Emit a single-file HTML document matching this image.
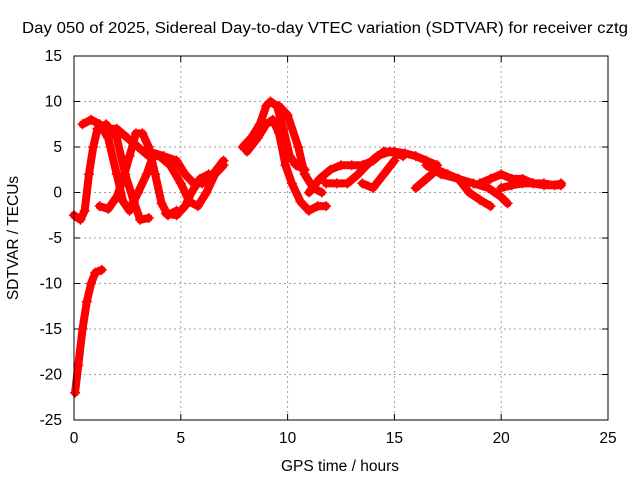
<!DOCTYPE html>
<html><head><meta charset="utf-8"><style>
body{margin:0;background:#fff;}
svg text{font-family:"Liberation Sans",sans-serif;font-size:15.5px;fill:#000;}
</style></head><body>
<svg id="chart" width="640" height="480">
<text x="22" y="33" textLength="606" lengthAdjust="spacingAndGlyphs">Day 050 of 2025, Sidereal Day-to-day VTEC variation (SDTVAR) for receiver cztg</text>
<text x="340" y="471" text-anchor="middle">GPS time / hours</text>
<text x="18" y="238" text-anchor="middle" transform="rotate(-90 18 238)">SDTVAR / TECUs</text>
<g id="grid"></g><g id="ticks"></g><g id="series"></g>
<rect x="74" y="56" width="534" height="364" fill="none" stroke="#000" stroke-width="1"/>
</svg>
<script>
const xTicks=[0,5,10,15,20,25];
const yTicks=[15,10,5,0,-5,-10,-15,-20,-25];
const track1X=[0.05,0.2,0.4,0.6,0.8,1.0,1.3];
const track1Y=[-22,-19,-15,-12,-10,-8.8,-8.5];
const track2X=[0,0.3,0.5,0.7,0.9,1.1,1.5,2.0,2.4,2.8,3.1,3.5];
const track2Y=[-2.5,-3,-2,2,5,7,7.5,6,2,-1,-3,-2.8];
const track3X=[0.4,0.8,1.2,1.6,2.0,2.3,2.6,3.0,3.4,3.7];
const track3Y=[7.5,8,7.5,6,2,-1,-2,0,2,4];
const track4X=[1.2,1.6,2.0,2.3,2.6,2.9,3.2,3.5,3.8,4.1,4.4,4.8];
const track4Y=[-1.5,-1.8,-0.5,1.5,4,6.5,6.5,5,2,-1.2,-2.5,-2];
const track5X=[1.5,2.0,2.5,3.0,3.5,4.0,4.5,5.0,5.4,5.8,6.2,6.6,7.0];
const track5Y=[7,7,6,5,4,4,3,1,-1,-1.5,0,2,3];
const track6X=[3.5,4.2,4.8,5.2,5.6,6.0,6.5,7.0];
const track6Y=[4.5,4,3.5,2,1,1,2,3.5];
const track7X=[4.3,4.8,5.2,5.5,5.9,6.3];
const track7Y=[-2.3,-2.5,-1.5,0,1.5,2];
const track8X=[7.9,8.3,8.7,9.0,9.2,9.5,9.8,10.1,10.4,10.8];
const track8Y=[5,6,7.5,9.5,10,9.5,7,4,3,2.5];
const track9X=[8.1,8.6,9.0,9.3,9.6,9.9,10.2,10.6,11.0,11.4,11.8];
const track9Y=[4.5,6,7.5,8,6.5,3,1,-1,-2,-1.5,-1.5];
const track10X=[9.6,10.0,10.5,10.8,11.2,11.6];
const track10Y=[9.5,8.5,5,2,0.5,0];
const track11X=[11.0,11.5,12,12.5,13,13.5,14,14.5,15,15.5,16,16.5,17];
const track11Y=[0,1.5,2.5,3,3,3,3.5,4.5,4.5,4.3,4,3.5,3];
const track12X=[11.8,12.3,12.8,13.3,13.7,14.2,14.8,15.4];
const track12Y=[1,1,1,2,3,4,4.5,4];
const track13X=[13.5,14,14.5,15];
const track13Y=[1,0.5,2,3.5];
const track14X=[16,16.5,17,17.5,18,18.5,19,19.5];
const track14Y=[0.5,1.5,2.5,2,1.5,0,-0.8,-1.5];
const track15X=[16.5,17.2,18,18.7,19.4,20,20.3];
const track15Y=[3,2,1.5,1,0.5,-0.5,-1.2];
const track16X=[19,19.5,20,20.5,21,21.5,22,22.8];
const track16Y=[1,1.5,2,1.5,1.5,1,0.8,0.8];
const track17X=[20,20.5,21,21.5,22,22.5,22.8];
const track17Y=[0.5,0.8,1,1,1,0.8,1];
const tracksX=[track1X,track2X,track3X,track4X,track5X,track6X,track7X,track8X,track9X,track10X,track11X,track12X,track13X,track14X,track15X,track16X,track17X];
const tracksY=[track1Y,track2Y,track3Y,track4Y,track5Y,track6Y,track7Y,track8Y,track9Y,track10Y,track11Y,track12Y,track13Y,track14Y,track15Y,track16Y,track17Y];

const NS="http://www.w3.org/2000/svg";
const L=74,R=608,T=56,B=420;
const sx=v=>L+(v-0)/25*(R-L);
const sy=v=>B-(v+25)/40*(B-T);
function mk(tag,attrs,parent){const e=document.createElementNS(NS,tag);for(const k in attrs)e.setAttribute(k,attrs[k]);parent.appendChild(e);return e;}
const grid=document.getElementById('grid'),ticks=document.getElementById('ticks'),ser=document.getElementById('series');
xTicks.forEach(t=>{
  const x=sx(t);
  if(t>0&&t<25){const g=mk('line',{x1:x,x2:x,y1:T,y2:B,stroke:'#a0a0a0','stroke-dasharray':'2,3'},grid);
  
  }
  mk('line',{x1:x,x2:x,y1:B,y2:B-6,stroke:'#000'},ticks);
  mk('line',{x1:x,x2:x,y1:T,y2:T+6,stroke:'#000'},ticks);
  const tx=mk('text',{x:x,y:B+23,'text-anchor':'middle'},ticks);tx.textContent=t;
  
  
});
yTicks.forEach(t=>{
  const y=sy(t);
  if(t>-25&&t<15){const g=mk('line',{x1:L,x2:R,y1:y,y2:y,stroke:'#a0a0a0','stroke-dasharray':'2,3'},grid);
  
  }
  mk('line',{x1:L,x2:L+6,y1:y,y2:y,stroke:'#000'},ticks);
  mk('line',{x1:R,x2:R-6,y1:y,y2:y,stroke:'#000'},ticks);
  const tx=mk('text',{x:L-12,y:y+5,'text-anchor':'end'},ticks);tx.textContent=t;
  
  
});
tracksX.forEach((xs,i)=>{
  const ys=tracksY[i];
  const pts=xs.map((x,j)=>sx(x)+','+sy(ys[j])).join(' ');
  const p=mk('polyline',{points:pts,fill:'none',stroke:'#ff0000','stroke-width':8,'stroke-linejoin':'round','stroke-linecap':'round'},ser);
  
  
  xs.forEach((x,j)=>{
    const cx=sx(x),cy=sy(ys[j]);
    const m=mk('path',{d:`M${cx-5},${cy}H${cx+5}M${cx},${cy-5}V${cy+5}`,stroke:'#ff0000','stroke-width':1.5},ser);
    
    
  });
});
</script>
</body></html>
